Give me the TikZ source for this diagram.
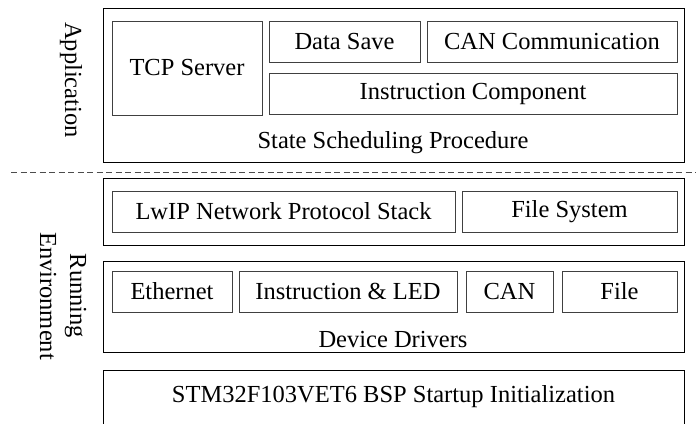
\documentclass[tikz,border=0pt]{standalone}
\usepackage{fontspec}
\setmainfont{Liberation Serif}
\begin{document}
\begin{tikzpicture}[x=1pt,y=-1pt,
  outerbox/.style={draw=black, line width=1pt, inner sep=0pt, rectangle},
  innerbox/.style={draw=black!75, line width=1pt, inner sep=0pt, rectangle},
  lbl/.style={inner sep=0pt},
  every node/.append style={font=\fontsize{24.5}{28}\selectfont}]
\useasboundingbox (0,0) rectangle (696,423);
% Application layer
\node[outerbox, minimum width=581pt, minimum height=154pt] (app) at (393.5,85) {};
\node[innerbox, minimum width=150pt, minimum height=94pt] (tcp) at (187,68) {TCP Server};
\node[innerbox, minimum width=151pt, minimum height=41pt] (save) at (344.5,41.5) {Data Save};
\node[innerbox, minimum width=250pt, minimum height=41pt] (canc) at (552,41.5) {CAN Communication};
\node[innerbox, minimum width=408pt, minimum height=41pt] (instr) at (473,93.5) {Instruction Component};
\node[lbl] (ssp) at (393,143) {State Scheduling Procedure};
\node[lbl, rotate=-90] (applbl) at (71,80) {Application};
% separator
\coordinate (dl) at (11,172);
\coordinate (dr) at (696,172);
\draw[black!70, line width=0.8pt, dash pattern=on 6pt off 3.5pt] (dl) -- (dr);
% Running environment
\node[outerbox, minimum width=581pt, minimum height=67pt] (env) at (393.5,211.5) {};
\node[innerbox, minimum width=343pt, minimum height=41pt] (lwip) at (283.5,211.5) {LwIP Network Protocol Stack};
\node[innerbox, minimum width=215pt, minimum height=41pt] (fs) at (569.5,211.5) {File System};
\node[outerbox, minimum width=581pt, minimum height=91pt] (dd) at (393.5,306.5) {};
\node[innerbox, minimum width=120pt, minimum height=41pt] (eth) at (172,291.5) {Ethernet};
\node[innerbox, minimum width=218pt, minimum height=41pt] (iled) at (348,291.5) {Instruction \& LED};
\node[innerbox, minimum width=87pt, minimum height=41pt] (can) at (509.5,291.5) {CAN};
\node[innerbox, minimum width=115pt, minimum height=41pt] (file) at (619.5,291.5) {File};
\node[lbl] (ddl) at (393,340) {Device Drivers};
\node[lbl, rotate=-90, align=center] (envlbl) at (63,296) {Running\\[2pt]Environment};
% BSP
\node[outerbox, minimum width=581pt, minimum height=54pt] (bsp) at (393.5,397) {STM32F103VET6 BSP Startup Initialization};
\end{tikzpicture}
\end{document}
